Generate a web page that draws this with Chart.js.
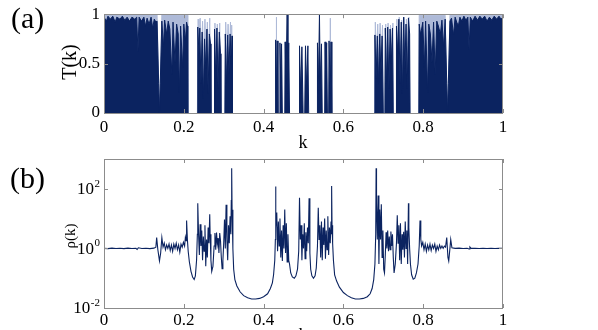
<!DOCTYPE html>
<html>
<head>
<meta charset="utf-8">
<script src="https://cdn.jsdelivr.net/npm/chart.js@4.4.1/dist/chart.umd.min.js"></script>
<style>
  body { margin: 0; background: #fff; }
  #fig { position: relative; width: 598px; height: 330px; overflow: hidden; background: #fff;
         font-family: "Liberation Serif", "Times New Roman", serif; color: #000; }
  #fig canvas { position: absolute; left: 0; }
  .txt { position: absolute; white-space: nowrap; }
  .rot { transform: translate(-50%, -50%) rotate(-90deg); }
</style>
</head>
<body>
<div id="fig">
  <canvas id="panelT" width="598" height="150" style="top:0"></canvas>
  <canvas id="panelRho" width="598" height="180" style="top:150px"></canvas>
  <div class="txt" style="left:11px;top:3px;font-size:30px;line-height:30px">(a)</div>
  <div class="txt" style="left:10px;top:163px;font-size:30px;line-height:30px">(b)</div>
  <div class="txt" style="left:283px;top:133px;width:40px;text-align:center;font-size:18px;line-height:18px">k</div>
  <div class="txt" style="left:283px;top:326px;width:40px;text-align:center;font-size:18px;line-height:18px">k</div>
  <div class="txt rot" style="left:69px;top:62px;font-size:20px;line-height:20px">T(k)</div>
  <div class="txt rot" style="left:70px;top:236px;font-size:15px;line-height:15px">ρ(k)</div>
</div>
<script>
// axis ticks
const kTicks = [0, 0.2, 0.4, 0.6, 0.8, 1];
const tTicks = [0, 0.5, 1];
const rhoTicks = [0.01, 1, 100];
const rhoExp = ['-2', '0', '2'];

// (a) T(k), dense core of the oscillation  [k, T]
const coreT = [
  [0,0.97],[0.006,0.93],[0.010,0.98],[0.016,0.95],[0.022,0.98],[0.028,0.92],[0.032,0.97],[0.040,0.95],
  [0.046,0.98],[0.052,0.94],[0.058,0.97],[0.064,0.93],[0.070,0.97],[0.077,0.95],[0.082,0.97],[0.085,0.62],
  [0.088,0.97],[0.094,0.93],[0.100,0.97],[0.104,0.88],[0.108,0.96],[0.113,0.90],[0.118,0.97],[0.122,0.86],
  [0.126,0.95],[0.130,0.92],[0.133,0.93],[0.137,0.30],[0.139,0],[0.141,0.30],[0.145,0.93],[0.149,0.67],
  [0.152,0.94],[0.157,0.80],[0.161,0.93],[0.165,0.85],[0.170,0.39],[0.173,0.92],[0.178,0.51],[0.182,0.90],
  [0.186,0.80],[0.189,0.21],[0.192,0.88],[0.197,0.46],[0.200,0.90],[0.204,0.73],[0.207,0.92],[0.209,0.88],
  [0.210,0],[0.222,null],
  [0.234,0],[0.235,0.87],[0.238,0.60],[0.240,0.86],[0.243,0.30],[0.246,0.82],[0.249,0.15],[0.252,0.75],
  [0.255,0.45],[0.258,0.85],[0.261,0.20],[0.264,0.80],[0.267,0.70],[0.268,0],[0.272,null],
  [0.276,0],[0.277,0.85],[0.280,0.35],[0.283,0.86],[0.286,0.25],[0.289,0.82],[0.292,0.60],[0.293,0],[0.298,null],
  [0.303,0],[0.304,0.80],[0.307,0.30],[0.310,0.79],[0.313,0.40],[0.316,0.80],[0.319,0.50],[0.321,0.78],[0.322,0],[0.375,null],
  [0.429,0],[0.430,0.74],[0.432,0.20],[0.434,0.73],[0.436,0],[0.438,null],
  [0.440,0],[0.441,0.71],[0.443,0.30],[0.445,0.70],[0.447,0],[0.450,null],
  [0.453,0],[0.454,0.72],[0.456,0.30],[0.459,1.00],[0.461,0.20],[0.463,0.71],[0.465,0],[0.477,null],
  [0.489,0],[0.490,0.68],[0.493,0.20],[0.496,0.67],[0.499,0],[0.501,null],
  [0.503,0],[0.505,0.68],[0.508,0.25],[0.511,0.68],[0.513,0],[0.524,null],
  [0.534,0],[0.535,0.71],[0.537,0.20],[0.540,1.00],[0.542,0.30],[0.545,0.70],[0.547,0],[0.550,null],
  [0.553,0],[0.554,0.72],[0.556,0.30],[0.558,0.71],[0.560,0],[0.5615,null],
  [0.563,0],[0.564,0.73],[0.567,0.20],[0.569,0.72],[0.571,0],[0.625,null],
  [0.678,0],[0.679,0.79],[0.682,0.35],[0.685,0.78],[0.688,0.30],[0.691,0.80],[0.694,0.40],[0.697,0.78],[0.700,0],[0.702,null],
  [0.704,0],[0.705,0.86],[0.708,0.30],[0.711,0.87],[0.714,0.25],[0.717,0.85],[0.720,0.50],[0.723,0.86],[0.725,0],[0.728,null],
  [0.732,0],[0.733,0.88],[0.736,0.60],[0.739,0.95],[0.742,0.30],[0.745,0.92],[0.748,0.20],[0.751,0.97],[0.754,0.45],
  [0.757,0.90],[0.760,0.25],[0.763,0.96],[0.766,0.80],[0.767,0],[0.778,null],
  [0.789,0],[0.790,0.90],[0.793,0.80],[0.796,0.85],[0.799,0.92],[0.803,0.46],[0.806,0.93],[0.811,0.21],[0.814,0.90],
  [0.818,0.80],[0.822,0.51],[0.826,0.92],[0.830,0.39],[0.834,0.93],[0.838,0.88],[0.843,0.80],[0.847,0.94],[0.851,0.67],
  [0.855,0.95],[0.859,0.30],[0.861,0],[0.863,0.30],[0.867,0.93],[0.871,0.96],[0.876,0.79],[0.880,0.97],[0.884,0.92],
  [0.888,0.88],[0.892,0.97],[0.897,0.93],[0.902,0.98],[0.907,0.94],[0.912,0.97],[0.915,0.64],[0.918,0.97],[0.924,0.93],
  [0.930,0.98],[0.936,0.94],[0.942,0.98],[0.948,0.95],[0.954,0.98],[0.960,0.93],[0.966,0.97],[0.972,0.94],[0.978,0.98],
  [0.984,0.95],[0.990,0.98],[0.995,0.95],[1.000,0.97]
];

// (a) T(k), upper envelope of the oscillation (light streaks)  [k, T]
const envT = [
  [0,0.995],[0.133,0.995],[0.137,0.30],[0.139,0],[0.141,0.30],[0.145,0.995],[0.209,0.99],[0.210,0],[0.222,null],
  [0.234,0],[0.236,0.95],[0.238,0.55],[0.241,0.96],[0.244,0.50],[0.247,0.93],[0.250,0.45],[0.253,0.95],
  [0.256,0.50],[0.259,0.92],[0.262,0.50],[0.265,0.96],[0.268,0],[0.272,null],
  [0.276,0],[0.278,0.91],[0.281,0.50],[0.284,0.90],[0.287,0.45],[0.290,0.91],[0.293,0],[0.298,null],
  [0.303,0],[0.305,0.92],[0.308,0.50],[0.311,0.90],[0.314,0.50],[0.317,0.92],[0.319,0.55],[0.320,0.89],[0.322,0],[0.375,null],
  [0.4315,0],[0.432,0.97],[0.4325,0],[0.50,null],
  [0.5665,0],[0.567,0.96],[0.5675,0],[0.625,null],
  [0.678,0],[0.680,0.92],[0.683,0.50],[0.686,0.90],[0.689,0.45],[0.692,0.91],[0.695,0.50],[0.698,0.89],[0.700,0],[0.702,null],
  [0.704,0],[0.706,0.90],[0.709,0.50],[0.712,0.91],[0.715,0.45],[0.718,0.89],[0.721,0.55],[0.724,0.91],[0.725,0],[0.728,null],
  [0.732,0],[0.734,0.95],[0.737,0.60],[0.740,0.97],[0.743,0.50],[0.746,0.94],[0.749,0.50],[0.752,0.97],
  [0.755,0.55],[0.758,0.95],[0.761,0.50],[0.764,0.97],[0.767,0],[0.778,null],
  [0.789,0],[0.790,0.99],[0.855,0.99],[0.859,0.30],[0.861,0],[0.863,0.30],[0.867,0.99],[1.000,0.99]
];

// (b) rho(k)  [k, rho]
const rho = [
  [0.000,1.00],[0.010,0.98],[0.020,1.02],[0.030,0.99],[0.040,1.01],[0.050,0.98],[0.060,1.02],[0.070,0.99],
  [0.080,1.00],[0.083,0.92],[0.086,1.05],[0.095,0.99],[0.105,1.01],[0.115,0.98],[0.125,1.02],[0.130,1.10],
  [0.132,2.30],[0.135,0.90],[0.139,0.38],[0.142,0.70],[0.145,2.30],[0.148,1.10],[0.151,1.50],[0.154,0.90],
  [0.157,1.30],[0.160,1.00],[0.163,1.40],[0.166,0.85],[0.169,1.30],[0.172,0.80],[0.175,1.40],[0.178,1.00],
  [0.181,1.50],[0.184,0.90],[0.187,1.30],[0.190,0.75],[0.193,1.40],[0.196,1.10],[0.199,1.60],[0.202,1.20],
  [0.204,2.40],[0.206,1.80],[0.207,8.70],[0.209,2.00],[0.211,0.80],[0.214,0.35],[0.218,0.17],[0.222,0.11],
  [0.226,0.09],[0.229,0.12],[0.232,0.40],[0.234,3.00],[0.235,33.0],[0.237,3.00],[0.239,0.60],[0.241,6.50],
  [0.243,1.20],[0.245,4.00],[0.247,0.40],[0.249,2.50],[0.251,0.80],[0.253,6.00],[0.255,0.25],[0.257,2.00],
  [0.259,0.50],[0.261,5.00],[0.263,1.50],[0.265,14.0],[0.266,3.00],[0.268,0.40],[0.270,0.17],[0.273,0.25],
  [0.276,1.20],[0.278,3.30],[0.280,0.90],[0.282,3.40],[0.284,1.40],[0.286,2.20],[0.288,0.70],[0.290,3.30],
  [0.292,1.80],[0.294,0.50],[0.296,0.21],[0.298,0.40],[0.300,1.50],[0.302,9.30],[0.304,1.00],[0.306,29.0],
  [0.308,2.00],[0.310,0.40],[0.312,6.00],[0.314,1.50],[0.316,12.0],[0.318,3.00],[0.319,40.0],[0.320,490],
  [0.321,20.0],[0.323,1.00],[0.325,0.20],[0.328,0.09],[0.333,0.055],[0.341,0.035],[0.350,0.026],[0.360,0.022],
  [0.370,0.020],[0.380,0.020],[0.390,0.021],[0.400,0.024],[0.410,0.030],[0.417,0.045],[0.422,0.070],[0.425,0.13],
  [0.428,0.40],[0.4295,2.0],[0.430,120],[0.431,5.0],[0.433,16.0],[0.435,0.80],[0.437,8.0],[0.439,1.20],
  [0.441,10.0],[0.443,0.50],[0.445,4.0],[0.447,0.38],[0.449,6.0],[0.451,1.0],[0.453,20.0],[0.455,0.70],
  [0.457,7.0],[0.459,0.35],[0.461,3.0],[0.463,0.40],[0.465,0.30],[0.468,0.15],[0.472,0.11],[0.477,0.10],
  [0.481,0.12],[0.485,0.20],[0.488,0.80],[0.490,50.0],[0.492,2.0],[0.494,6.0],[0.496,0.40],[0.498,3.0],
  [0.500,1.0],[0.502,7.0],[0.504,0.45],[0.506,3.5],[0.508,0.80],[0.510,5.0],[0.512,1.5],[0.514,48.0],
  [0.516,0.70],[0.518,0.20],[0.521,0.12],[0.525,0.10],[0.529,0.12],[0.532,0.22],[0.535,1.2],[0.537,23.0],
  [0.539,2.0],[0.541,6.0],[0.543,0.50],[0.545,8.0],[0.547,0.40],[0.549,5.0],[0.551,1.3],[0.553,10.0],
  [0.555,0.45],[0.557,4.0],[0.559,0.90],[0.561,12.0],[0.563,0.60],[0.565,5.0],[0.567,1.5],[0.569,8.0],
  [0.570,3.0],[0.571,125],[0.5715,6.0],[0.573,1.5],[0.575,0.40],[0.578,0.13],[0.583,0.08],[0.590,0.05],
  [0.600,0.033],[0.610,0.026],[0.620,0.022],[0.630,0.020],[0.640,0.020],[0.650,0.021],[0.660,0.024],[0.667,0.030],
  [0.672,0.045],[0.676,0.09],[0.679,0.30],[0.681,3.0],[0.682,490],[0.683,30.0],[0.685,2.0],[0.687,60.0],
  [0.689,0.30],[0.691,20.0],[0.693,2.0],[0.695,30.0],[0.697,0.50],[0.699,4.0],[0.701,0.20],[0.703,0.15],
  [0.705,0.60],[0.707,3.5],[0.709,1.0],[0.711,4.0],[0.713,0.80],[0.715,2.5],[0.717,0.90],[0.719,3.7],
  [0.721,1.2],[0.723,3.0],[0.725,0.50],[0.727,0.15],[0.730,0.30],[0.733,1.5],[0.735,13.0],[0.737,1.5],
  [0.739,6.0],[0.741,0.40],[0.743,7.0],[0.745,0.30],[0.747,3.0],[0.749,0.90],[0.751,3.6],[0.753,0.50],
  [0.755,8.0],[0.757,1.0],[0.759,4.0],[0.761,0.30],[0.763,33.0],[0.764,5.0],[0.766,1.0],[0.768,0.30],
  [0.771,0.13],[0.775,0.093],[0.779,0.10],[0.783,0.15],[0.787,0.30],[0.790,1.2],[0.792,8.7],[0.794,2.0],
  [0.796,1.2],[0.799,1.6],[0.802,0.90],[0.805,1.4],[0.808,0.80],[0.811,1.3],[0.814,0.90],[0.817,1.4],
  [0.820,0.85],[0.823,1.3],[0.826,1.0],[0.829,1.4],[0.832,0.80],[0.835,1.2],[0.838,0.90],[0.841,1.3],
  [0.844,1.0],[0.847,1.2],[0.850,1.0],[0.853,1.2],[0.856,1.1],[0.859,2.3],[0.862,0.50],[0.864,0.38],
  [0.867,1.0],[0.869,2.0],[0.872,1.05],[0.880,1.00],[0.890,1.02],[0.900,0.99],[0.910,1.01],[0.915,0.95],
  [0.917,1.12],[0.920,1.00],[0.930,1.01],[0.940,0.99],[0.950,1.01],[0.960,0.99],[0.970,1.01],[0.980,0.99],
  [0.990,1.01],[1.000,1.00]
];

const NAVY = '#0b2360';
const LIGHT = '#aebad8';
const FRAME = '#8c8c8c';

Chart.defaults.font.family = '"Liberation Serif", "Times New Roman", serif';
Chart.defaults.color = '#000';

const toXY = pts => pts.map(p => ({ x: p[0], y: p[1] }));
const plain = v => String(+Number(v).toFixed(2));

// box + inward tick marks on all four sides
const frame = {
  id: 'frame',
  afterDatasetsDraw(chart) {
    const { ctx, chartArea: a } = chart;
    const xs = chart.scales.x, ys = chart.scales.y;
    ctx.save();
    ctx.strokeStyle = FRAME;
    ctx.lineWidth = 1;
    ctx.beginPath();
    xs.ticks.forEach(t => {
      const px = Math.round(xs.getPixelForValue(t.value)) + 0.5;
      ctx.moveTo(px, a.bottom); ctx.lineTo(px, a.bottom - 4);
      ctx.moveTo(px, a.top); ctx.lineTo(px, a.top + 4);
    });
    ys.ticks.forEach(t => {
      const py = Math.round(ys.getPixelForValue(t.value)) + 0.5;
      ctx.moveTo(a.left, py); ctx.lineTo(a.left + 4, py);
      ctx.moveTo(a.right, py); ctx.lineTo(a.right - 4, py);
    });
    ctx.stroke();
    ctx.strokeRect(Math.round(a.left) + 0.5, Math.round(a.top) + 0.5,
                   Math.round(a.width) - 1, Math.round(a.height));
    ctx.restore();
  }
};

// 10^n labels for the log axis
const powLabels = {
  id: 'powLabels',
  afterDraw(chart) {
    const ys = chart.scales.y, ctx = chart.ctx;
    const right = chart.chartArea.left - 4;
    ctx.save();
    ctx.fillStyle = '#000';
    ctx.textBaseline = 'middle';
    ctx.textAlign = 'right';
    rhoTicks.forEach((v, i) => {
      const py = ys.getPixelForValue(v);
      ctx.font = '11px "Liberation Serif"';
      const ew = ctx.measureText(rhoExp[i]).width;
      ctx.fillText(rhoExp[i], right, py - 5);
      ctx.font = '17px "Liberation Serif"';
      ctx.fillText('10', right - ew - 0.5, py + 1);
    });
    ctx.restore();
  }
};

const kAxis = (height, pad) => ({
  type: 'linear', min: 0, max: 1,
  grid: { display: false, drawTicks: false },
  border: { display: false },
  afterBuildTicks: s => { s.ticks = kTicks.map(v => ({ value: v })); },
  afterFit: s => { s.height = height; },
  ticks: { font: { size: 17 }, padding: pad, maxRotation: 0, autoSkip: false, callback: plain }
});

new Chart(document.getElementById('panelT'), {
  type: 'line',
  data: {
    datasets: [
      { data: toXY(coreT), borderColor: NAVY, backgroundColor: NAVY, borderWidth: 1, fill: 'origin', pointRadius: 0 },
      { data: toXY(envT), borderColor: LIGHT, backgroundColor: LIGHT, borderWidth: 1, fill: 'origin', pointRadius: 0 }
    ]
  },
  options: {
    responsive: false,
    animation: false,
    layout: { padding: { left: 0, right: 95, top: 4, bottom: 0 } },
    plugins: { legend: { display: false }, tooltip: { enabled: false } },
    scales: {
      x: kAxis(37, 4),
      y: {
        min: 0, max: 1,
        grid: { display: false, drawTicks: false },
        border: { display: false },
        afterBuildTicks: s => { s.ticks = tTicks.map(v => ({ value: v })); },
        afterFit: s => { s.width = 104; },
        ticks: { font: { size: 17 }, padding: 4, callback: plain }
      }
    }
  },
  plugins: [frame]
});

new Chart(document.getElementById('panelRho'), {
  type: 'line',
  data: {
    datasets: [
      { data: toXY(rho), borderColor: NAVY, borderWidth: 1.1, fill: false, pointRadius: 0 }
    ]
  },
  options: {
    responsive: false,
    animation: false,
    layout: { padding: { left: 0, right: 95, top: 9, bottom: 0 } },
    plugins: { legend: { display: false }, tooltip: { enabled: false } },
    scales: {
      x: kAxis(22, 2),
      y: {
        type: 'logarithmic', min: 0.01, max: 1000,
        grid: { display: false, drawTicks: false },
        border: { display: false },
        afterBuildTicks: s => { s.ticks = rhoTicks.map(v => ({ value: v })); },
        afterFit: s => { s.width = 104; },
        ticks: { display: false }
      }
    }
  },
  plugins: [frame, powLabels]
});
</script>
</body>
</html>
